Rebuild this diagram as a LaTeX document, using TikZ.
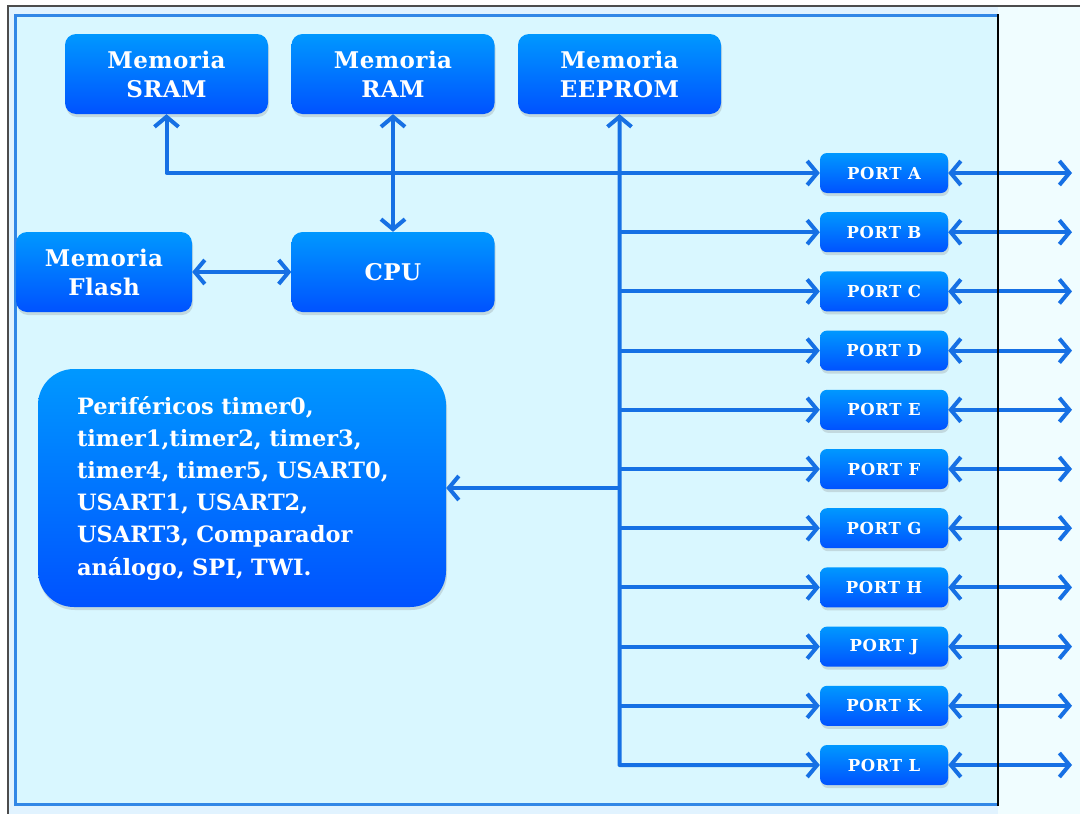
\documentclass[tikz,border=0pt]{standalone}
\usepackage{fontspec}
\setmainfont{DejaVu Serif}
\usetikzlibrary{arrows.meta,shadows}
\definecolor{linec}{RGB}{22,112,228}
\definecolor{panelfill}{RGB}{217,247,255}
\definecolor{panelborder}{RGB}{50,135,230}
\definecolor{rightfill}{RGB}{240,253,255}
\definecolor{leftfill}{RGB}{225,243,255}
\definecolor{boxtop}{RGB}{0,152,255}
\definecolor{boxbot}{RGB}{0,82,255}
\tikzset{
  bluebox/.style={rounded corners=11pt, top color=boxtop, bottom color=boxbot, draw=none,
    text=white, align=center, inner sep=0pt,
    drop shadow={opacity=0.25, shadow xshift=1pt, shadow yshift=-3pt}},
  membox/.style={bluebox, minimum width=203pt, minimum height=80pt,
    font=\bfseries\fontsize{23}{29}\selectfont\addfontfeature{LetterSpace=2}},
  portbox/.style={bluebox, rounded corners=7pt, minimum width=128pt, minimum height=40pt,
    font=\bfseries\fontsize{16.5}{18}\selectfont\addfontfeature{LetterSpace=4}},
  perbox/.style={bluebox, rounded corners=36pt, minimum width=404pt, minimum height=238pt,
    align=left, text width=330pt, inner xsep=39pt,
    font=\bfseries\fontsize{22.5}{32.2}\selectfont},
  conn/.style={draw=linec, line width=4pt, line join=round},
  >={Straight Barb[length=10pt,width=24pt]}
}
\begin{document}
\begin{tikzpicture}[x=1pt,y=-1pt]
\useasboundingbox (0,0) rectangle (1080,814);
\fill[white] (0,0) rectangle (1080,814);
\fill[rightfill] (998,7) rectangle (1080,814);
\fill[leftfill] (8,6) rectangle (998,814);
\fill[panelfill] (15,14) rectangle (998,805);
\draw[panelborder, line width=3pt] (998,15) -- (15,15) -- (15,804) -- (998,804);

% nodes
\node[membox] (sram) at (166.5,74) {Memoria\\SRAM};
\node[membox] (ram) at (393,74) {Memoria\\RAM};
\node[membox] (eeprom) at (619.5,74) {Memoria\\EEPROM};
\node[membox, minimum width=176pt] (flash) at (104,272) {Memoria\\Flash};
\node[membox] (cpu) at (393,272) {CPU};
\node[perbox] (per) at (242,488) {Periféricos timer0,\\ timer1,timer2, timer3,\\ timer4, timer5, USART0,\\ USART1, USART2,\\ USART3, Comparador\\ análogo, SPI, TWI.};
\foreach \n/\i in {A/0,B/1,C/2,D/3,E/4,F/5,G/6,H/7,J/8,K/9,L/10}{
  \node[portbox] (p\n) at (884,173+59.2*\i) {PORT \n};
}
\coordinate (busL) at (619.5,765);
\coordinate (outx) at (1072,0);

% connectors
\draw[conn,<->] (sram.south) |- (pA.west);
\draw[conn,<->] (ram.south) -- (cpu.north);
\draw[conn,<->] (flash.east) -- (cpu.west);
\draw[conn,<->] (eeprom.south) -- (busL) -- (pL.west);
\foreach \n in {B,C,D,E,F,G,H,J,K}{
  \draw[conn,->] (p\n.west -| busL) -- (p\n.west);
}
\draw[conn,->] (per.east -| busL) -- (per.east);
\foreach \n in {A,B,C,D,E,F,G,H,J,K,L}{
  \draw[conn,<->] (p\n.east) -- (p\n.east -| outx);
}

% frame lines
\draw[black, line width=1.5pt] (998,14) -- (998,806);
\draw[black!70, line width=1.2pt] (8,814) -- (8,6) -- (1080,6);
\end{tikzpicture}
\end{document}
